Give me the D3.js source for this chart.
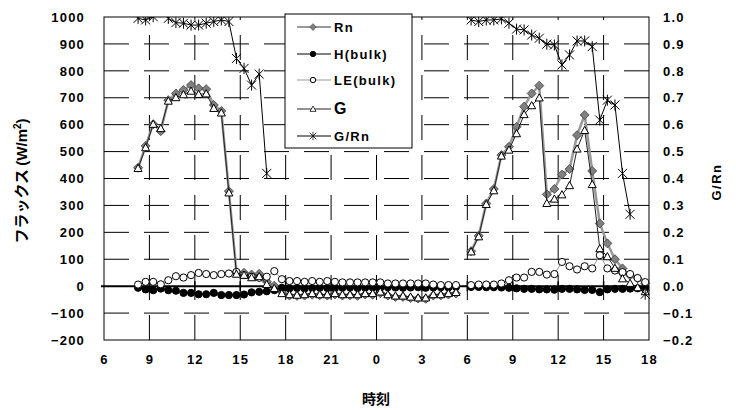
<!DOCTYPE html>
<html>
<head>
<meta charset="utf-8">
<script src="https://cdn.jsdelivr.net/npm/d3@7"></script>
<style>
  body { margin: 0; background: #fff; }
  text { font-family: "Liberation Sans", Arial, sans-serif; font-weight: bold; }
  .jp { font-family: "Noto Sans CJK JP", sans-serif; font-weight: bold; }
</style>
</head>
<body>
<svg id="chart" width="736" height="410"></svg>
<script>
// time of day in hours, half-hourly averages
var day1Time = [8.25, 8.75, 9.25, 9.75, 10.25, 10.75, 11.25, 11.75, 12.25, 12.75, 13.25, 13.75, 14.25, 14.75,
  15.25, 15.75, 16.25, 16.75, 17.25, 17.75, 18.25, 18.75, 19.25, 19.75, 20.25, 20.75, 21.25, 21.75,
  22.25, 22.75, 23.25, 23.75, 24.25, 24.75, 25.25, 25.75, 26.25, 26.75, 27.25, 27.75, 28.25, 28.75, 29.25];
var day2Time = [30.25, 30.75, 31.25, 31.75, 32.25, 32.75, 33.25, 33.75, 34.25, 34.75, 35.25, 35.75,
  36.25, 36.75, 37.25, 37.75, 38.25, 38.75, 39.25, 39.75, 40.25, 40.75, 41.25, 41.75];

var rn1 = [440, 521, 602, 576, 691, 716, 729, 747, 735, 732, 673, 651, 353, 53,
  50, 43, 46, 17, 2, -22, -35, -36, -35, -32, -34, -35, -31, -35,
  -34, -36, -31, -32, -26, -35, -40, -40, -44, -46, -47, -35, -34, -31, -27];
var h1 = [-6, -12, -15, -9, -15, -17, -25, -25, -30, -30, -25, -33, -33, -33,
  -31, -23, -21, -19, -15, -6, -8, -7, -9, -8, -6, -7, -8, -6,
  -5, -7, -6, -5, -6, -4, -5, -6, -5, -4, -6, -5, -4, -5, -3];
var le1 = [6, 16, 16, 7, 22, 37, 32, 41, 49, 45, 41, 45, 47, 53,
  41, 35, 31, 35, 56, 26, 19, 19, 16, 19, 16, 19, 16, 14,
  14, 14, 14, 14, 14, 10, 10, 10, 10, 10, 10, 6, 4, 4, 4];
var g1 = [438, 515, 602, 586, 688, 701, 712, 725, 713, 715, 661, 644, 347, 45,
  41, 32, 36, 7, -8, -27, -31, -33, -31, -27, -31, -31, -27, -31,
  -31, -31, -27, -27, -21, -31, -36, -36, -40, -43, -43, -31, -31, -27, -23];
var ratio1 = [0.995, 0.989, 1.001, 1.02, 0.995, 0.979, 0.977, 0.970, 0.970, 0.977, 0.983, 0.989, 0.983, 0.846,
  0.809, 0.747, 0.788, 0.419, null, null, null, null, null, null, null, null, null, null,
  null, null, null, null, null, null, null, null, null, null, null, null, null, null, null];

var rn2 = [130, 187, 307, 361, 487, 518, 592, 667, 716, 745, 341, 361,
  415, 435, 561, 636, 428, 233, 159, 100, 66, 41, 29, 10];
var h2 = [-3, -3, -4, -4, -5, -6, -8, -10, -10, -12, -12, -13,
  -10, -10, -12, -14, -14, -22, -12, -10, -10, -9, -8, -6];
var le2 = [4, 6, 6, 6, 10, 22, 32, 32, 53, 53, 43, 45,
  90, 74, 62, 74, 66, 115, 66, 58, 52, 45, 30, 15];
var g2 = [128, 184, 304, 355, 484, 506, 567, 638, 671, 700, 308, 324,
  340, 374, 510, 579, 378, 140, 110, 67, 28, 11, -5, -20];
var ratio2 = [0.989, 0.983, 0.989, 0.989, 0.993, 0.977, 0.955, 0.952, 0.933, 0.921, 0.899, 0.896,
  0.822, 0.859, 0.911, 0.911, 0.890, 0.617, 0.691, 0.673, 0.419, 0.267, null, -0.03];

var xTicks = [6, 9, 12, 15, 18, 21, 24, 27, 30, 33, 36, 39, 42];
var yTicks = [-200, -100, 0, 100, 200, 300, 400, 500, 600, 700, 800, 900, 1000];
var y2Ticks = [-0.2, -0.1, 0, 0.1, 0.2, 0.3, 0.4, 0.5, 0.6, 0.7, 0.8, 0.9, 1.0];

var svg = d3.select("#chart");
var L = 104, R = 649, T = 17, B = 340;

var x = d3.scaleLinear().domain([6, 42]).range([L, R]);
var y = d3.scaleLinear().domain([-200, 1000]).range([B, T]);
var y2 = d3.scaleLinear().domain([-0.2, 1.0]).range([B, T]);

svg.append("defs").append("clipPath").attr("id", "plotclip")
  .append("rect").attr("x", L - 6).attr("y", T).attr("width", R - L + 12).attr("height", B - T + 6);

// gridlines
var grid = svg.append("g");
grid.selectAll("line.h")
  .data(yTicks.filter(function (d) { return d > -200 && d < 1000 && d !== 0; }))
  .enter().append("line")
  .attr("x1", L).attr("x2", R)
  .attr("y1", function (d) { return y(d); }).attr("y2", function (d) { return y(d); })
  .attr("stroke", "#000").attr("stroke-width", 1)
  .attr("stroke-dasharray", "25,15");
grid.selectAll("line.v")
  .data(xTicks.slice(1, -1))
  .enter().append("line")
  .attr("y1", B).attr("y2", T)
  .attr("x1", function (d) { return x(d); }).attr("x2", function (d) { return x(d); })
  .attr("stroke", "#000").attr("stroke-width", 1)
  .attr("stroke-dasharray", "25,15");

// plot border
svg.append("rect").attr("x", L).attr("y", T).attr("width", R - L).attr("height", B - T)
  .attr("fill", "none").attr("stroke", "#000").attr("stroke-width", 1);

// zero axis with ticks
svg.append("line").attr("x1", L - 3).attr("x2", R).attr("y1", y(0)).attr("y2", y(0))
  .attr("stroke", "#000").attr("stroke-width", 2);
svg.selectAll("line.xt").data(xTicks.slice(1, -1)).enter().append("line")
  .attr("x1", function (d) { return x(d); }).attr("x2", function (d) { return x(d); })
  .attr("y1", y(0) - 5).attr("y2", y(0) + 5)
  .attr("stroke", "#000").attr("stroke-width", 1.5);

// axes labels
var ax = svg.append("g").attr("transform", "translate(0," + B + ")")
  .call(d3.axisBottom(x).tickValues(xTicks).tickSize(0).tickPadding(15)
    .tickFormat(function (d) { return d % 24; }));
var ay = svg.append("g").attr("transform", "translate(" + L + ",0)")
  .call(d3.axisLeft(y).tickValues(yTicks).tickSize(0).tickPadding(19)
    .tickFormat(d3.format("d")));
var ay2 = svg.append("g").attr("transform", "translate(" + R + ",0)")
  .call(d3.axisRight(y2).tickValues(y2Ticks).tickSize(0).tickPadding(14)
    .tickFormat(d3.format(".1f")));
[ax, ay, ay2].forEach(function (g) {
  g.select(".domain").remove();
  g.selectAll("text").attr("font-size", 13).attr("fill", "#000")
    .style("font-family", "'Liberation Sans', Arial, sans-serif").style("font-weight", "bold")
    .style("letter-spacing", "1.2px");
});

svg.append("text").attr("class", "jp")
  .attr("transform", "translate(27,181) rotate(-90)")
  .attr("text-anchor", "middle").attr("font-size", 15)
  .text("フラックス ")
  .append("tspan").style("font-family", "'Liberation Sans', Arial, sans-serif").text("(W/m")
  .append("tspan").attr("dy", -6).attr("font-size", 10).text("2")
  .append("tspan").attr("dy", 6).attr("font-size", 15).text(")");

svg.append("text")
  .attr("transform", "translate(721,182) rotate(-90)")
  .attr("text-anchor", "middle").attr("font-size", 13).style("letter-spacing", "1.5px")
  .text("G/Rn");

svg.append("text").attr("class", "jp").attr("x", 376).attr("y", 404)
  .attr("text-anchor", "middle").attr("font-size", 14).text("時刻");

// series
function pts(times, vals) {
  return times.map(function (t, i) { return { t: t, v: vals[i] }; });
}
var shapes = {
  diamond: "M0,-4.5L4.5,0L0,4.5L-4.5,0Z",
  triangle: "M0,-4L4,3.2L-4,3.2Z",
  star: "M-4.5,-4.5L4.5,4.5M-4.5,4.5L4.5,-4.5M0,-5.5L0,5.5"
};
var series = [
  { key: "Rn", d: [pts(day1Time, rn1), pts(day2Time, rn2)], scale: y, line: "#999", lw: 2.5, marker: "diamond", fill: "#808080", stroke: "#404040" },
  { key: "H(bulk)", d: [pts(day1Time, h1), pts(day2Time, h2)], scale: y, line: "#000", lw: 1, marker: "dot", fill: "#000", stroke: "#000" },
  { key: "LE(bulk)", d: [pts(day1Time, le1), pts(day2Time, le2)], scale: y, line: "#999", lw: 1, marker: "circle", fill: "#fff", stroke: "#000" },
  { key: "G", d: [pts(day1Time, g1), pts(day2Time, g2)], scale: y, line: "#222", lw: 1, marker: "triangle", fill: "#fff", stroke: "#000" },
  { key: "G/Rn", d: [pts(day1Time, ratio1), pts(day2Time, ratio2)], scale: y2, line: "#000", lw: 1, marker: "star", fill: "none", stroke: "#000" }
];

var plot = svg.append("g").attr("clip-path", "url(#plotclip)");

function drawMarker(g, s, px, py, k) {
  k = k || 1;
  if (s.marker === "dot" || s.marker === "circle") {
    g.append("circle").attr("cx", px).attr("cy", py).attr("r", 3.6 * k)
      .attr("fill", s.fill).attr("stroke", s.stroke).attr("stroke-width", 1);
  } else {
    g.append("path").attr("d", shapes[s.marker])
      .attr("transform", "translate(" + px + "," + py + ") scale(" + k + ")")
      .attr("fill", s.fill).attr("stroke", s.stroke).attr("stroke-width", s.marker === "diamond" ? 0.8 : 1);
  }
}

series.forEach(function (s) {
  var line = d3.line()
    .defined(function (p) { return p.v !== null; })
    .x(function (p) { return x(p.t); })
    .y(function (p) { return s.scale(p.v); });
  var g = plot.append("g");
  s.d.forEach(function (seg) {
    g.append("path").attr("d", line(seg)).attr("fill", "none")
      .attr("stroke", s.line).attr("stroke-width", s.lw);
  });
  s.d.forEach(function (seg) {
    seg.filter(function (p) { return p.v !== null; }).forEach(function (p) {
      drawMarker(g, s, x(p.t), s.scale(p.v));
    });
  });
});

// legend
var lg = svg.append("g");
lg.append("rect").attr("x", 285).attr("y", 14).attr("width", 127).attr("height", 134)
  .attr("fill", "#fff").attr("stroke", "#000").attr("stroke-width", 1);
var rowY = [27, 54, 80, 109, 136];
series.forEach(function (s, i) {
  var yy = rowY[i];
  lg.append("line").attr("x1", 297).attr("x2", 331).attr("y1", yy).attr("y2", yy)
    .attr("stroke", s.line).attr("stroke-width", s.lw === 2.5 ? 2 : 1);
  drawMarker(lg, s, 313, yy, 0.75);
  lg.append("text").attr("x", 334).attr("y", yy + 5)
    .attr("font-size", s.key === "G" ? 16 : 13)
    .style("letter-spacing", "1.3px")
    .text(s.key);
});
</script>
</body>
</html>
